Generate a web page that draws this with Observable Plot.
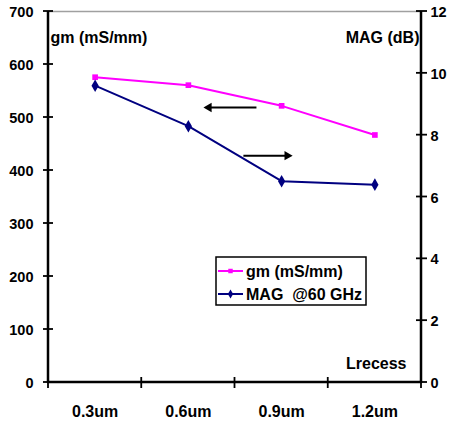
<!DOCTYPE html>
<html>
<head>
<meta charset="utf-8">
<script src="https://cdn.jsdelivr.net/npm/d3@7"></script>
<script src="https://cdn.jsdelivr.net/npm/@observablehq/plot@0.6"></script>
<style>
  html, body { margin: 0; padding: 0; background: #fff; overflow: hidden; }
  #chart svg { display: block; max-width: none !important; }
</style>
</head>
<body>
<div id="chart"></div>
<script>
// ---- data ----
const categories = ["0.3um", "0.6um", "0.9um", "1.2um"];
const gmValues = [576, 561, 522, 467];        // gm (mS/mm), left axis
const magValues = [9.6, 8.29, 6.51, 6.4];     // MAG @60 GHz (dB), right axis
const gmTicks = [0, 100, 200, 300, 400, 500, 600, 700];
const magTicks = [0, 2, 4, 6, 8, 10, 12];
const gmMax = 700, magMax = 12;
// direction arrows (x in category units, y in gm units)
const arrows = [
  {x1: 2.23, x2: 1.72, y1: 519, y2: 519},
  {x1: 2.09, x2: 2.56, y1: 428, y2: 428}
];

const toGm = v => v * gmMax / magMax;
const rows = categories.map((c, i) => ({pos: i + 0.5, cat: c, gm: gmValues[i], mag: toGm(magValues[i])}));
const xTicks = d3.range(categories.length + 1);

const font = "'Liberation Sans', Arial, sans-serif";
const gmColor = "#ff00ff", magColor = "#000080";

const chart = Plot.plot({
  width: 452, height: 421,
  marginLeft: 48, marginRight: 31, marginTop: 11, marginBottom: 39,
  x: {type: "linear", domain: [0, categories.length]},
  y: {domain: [0, gmMax]},
  style: {fontFamily: font, fontWeight: "bold", background: "#fff", color: "#000"},
  marks: [
    // axis labels
    Plot.axisY({anchor: "left", ticks: gmTicks, tickSize: 0, tickPadding: 15, fontSize: 14.5, fontWeight: "bold", dy: 1, label: null}),
    Plot.axisY({anchor: "right", ticks: magTicks.map(toGm), tickFormat: v => Math.round(v * magMax / gmMax), tickSize: 0, tickPadding: 9, fontSize: 14.5, fontWeight: "bold", dy: 1, label: null}),
    Plot.axisX({anchor: "bottom", ticks: rows.map(r => r.pos), tickFormat: v => categories[Math.floor(v)], tickSize: 0, tickPadding: 23, fontSize: 16, fontWeight: "bold", label: null}),
    // titles inside frame
    Plot.text(["gm (mS/mm)"], {frameAnchor: "top-left", text: d => d, textAnchor: "start", dx: 2, dy: 20, fontSize: 16, fontWeight: "bold"}),
    Plot.text(["MAG (dB)"], {frameAnchor: "top-right", text: d => d, textAnchor: "end", dx: -2, dy: 20, fontSize: 16, fontWeight: "bold"}),
    Plot.text(["Lrecess"], {frameAnchor: "bottom-right", text: d => d, textAnchor: "end", dx: -15, dy: -14, fontSize: 16, fontWeight: "bold"}),
    // series
    Plot.line(rows, {x: "pos", y: "gm", stroke: gmColor, strokeWidth: 2}),
    Plot.dot(rows, {x: "pos", y: "gm", symbol: "square", r: 3.2, fill: gmColor, stroke: "none"}),
    Plot.line(rows, {x: "pos", y: "mag", stroke: magColor, strokeWidth: 2}),
    Plot.dot(rows, {x: "pos", y: "mag", symbol: "diamond", r: 3.8, fill: magColor, stroke: "none"}),
    // arrows
    Plot.link(arrows, {x1: "x1", y1: "y1", x2: "x2", y2: "y2", stroke: "#000", strokeWidth: 2}),
    Plot.dot(arrows, {x: "x2", y: "y2", symbol: "triangle", r: 3.5, fill: "#000", stroke: "none",
      rotate: d => d.x2 < d.x1 ? -90 : 90})
  ]
});

const svg = d3.select(chart);
const xs = chart.scale("x"), ys = chart.scale("y");
const L = Math.round(xs.apply(0)), R = Math.round(xs.apply(categories.length));
const B = Math.round(ys.apply(0)), T = Math.round(ys.apply(gmMax));

// frame top line, axis lines and crossing ticks
const ax = svg.append("g");
ax.append("line").attr("x1", L).attr("x2", R).attr("y1", T + 0.5).attr("y2", T + 0.5)
  .attr("stroke", "#a0a0a0").attr("stroke-width", 1.5);
ax.append("line").attr("x1", L).attr("x2", L).attr("y1", T).attr("y2", B + 1).attr("stroke", "#000").attr("stroke-width", 2.5);
ax.append("line").attr("x1", R).attr("x2", R).attr("y1", T).attr("y2", B + 1).attr("stroke", "#000").attr("stroke-width", 2.5);
ax.append("line").attr("x1", L - 1).attr("x2", R + 1).attr("y1", B).attr("y2", B).attr("stroke", "#000").attr("stroke-width", 2.5);
gmTicks.forEach(t => {
  const y = ys.apply(t);
  ax.append("line").attr("x1", L - 5).attr("x2", L + 5).attr("y1", y).attr("y2", y).attr("stroke", "#000").attr("stroke-width", 1.8);
});
magTicks.forEach(t => {
  const y = ys.apply(toGm(t));
  ax.append("line").attr("x1", R - 5).attr("x2", R + 6).attr("y1", y).attr("y2", y).attr("stroke", "#000").attr("stroke-width", 1.8);
});
xTicks.forEach(t => {
  const x = xs.apply(t);
  ax.append("line").attr("x1", x).attr("x2", x).attr("y1", B - 5).attr("y2", B + 6).attr("stroke", "#000").attr("stroke-width", 1.8);
});

// legend drawn inside the plot area
const lg = svg.append("g").attr("font-family", font).attr("font-weight", "bold")
  .attr("font-size", 16).attr("text-anchor", "start");
lg.append("rect").attr("x", 216).attr("y", 257).attr("width", 150).attr("height", 48)
  .attr("fill", "#fff").attr("stroke", "#000").attr("stroke-width", 1.5);
const legendItems = [
  {label: "gm (mS/mm)", color: gmColor, symbol: d3.symbolSquare, size: 20},
  {label: "MAG  @60 GHz", color: magColor, symbol: d3.symbolDiamond, size: 24}
];
legendItems.forEach((it, i) => {
  const cy = 271 + i * 23;
  lg.append("line").attr("x1", 218).attr("x2", 243).attr("y1", cy).attr("y2", cy)
    .attr("stroke", it.color).attr("stroke-width", 2);
  lg.append("path").attr("d", d3.symbol(it.symbol, it.size)()).attr("transform", `translate(230.5,${cy})`)
    .attr("fill", it.color);
  lg.append("text").attr("x", 246).attr("y", cy + 6).attr("fill", "#000")
    .attr("text-anchor", "start").style("white-space", "pre").text(it.label);
});

document.getElementById("chart").appendChild(chart);
</script>
</body>
</html>
